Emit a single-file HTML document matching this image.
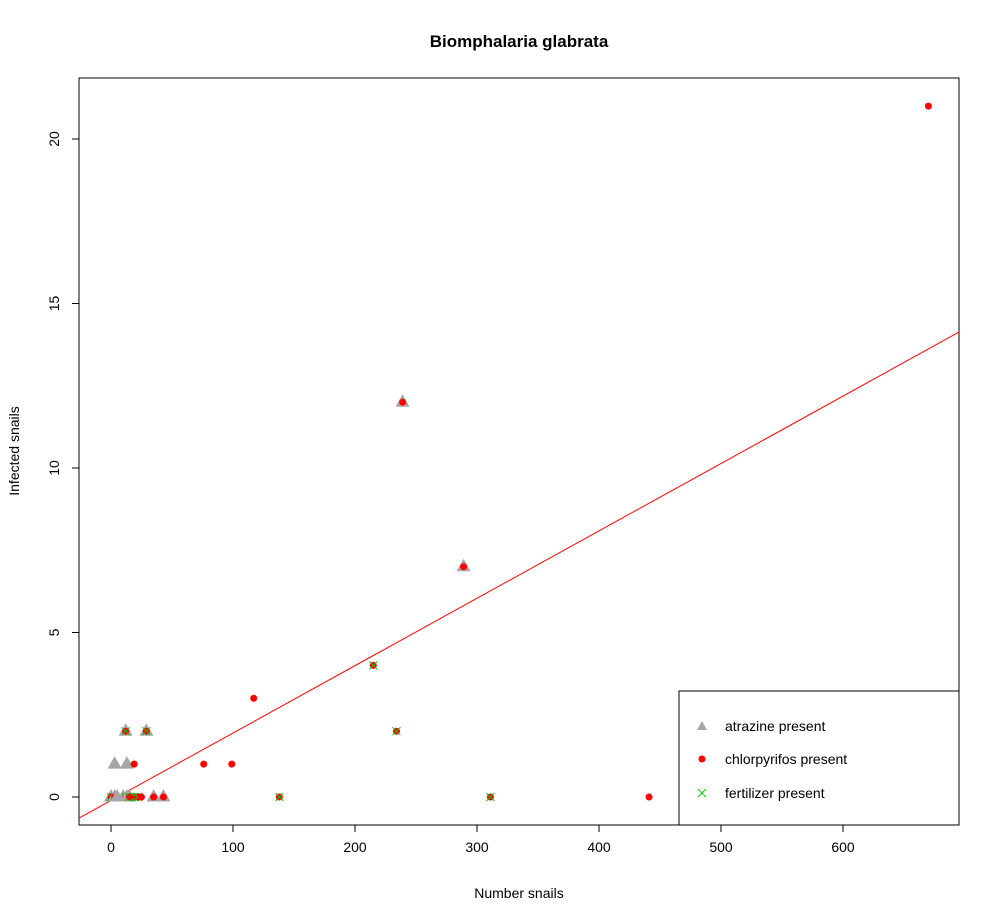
<!DOCTYPE html>
<html><head><meta charset="utf-8"><style>
body{margin:0;background:#fff}
svg{display:block;font-family:"Liberation Sans",Arial,sans-serif}
</style></head><body>
<svg id="chart" width="1000" height="923">
<text x="519" y="47" text-anchor="middle" font-size="17" font-weight="bold">Biomphalaria glabrata</text>
<text x="519" y="898" text-anchor="middle" font-size="14">Number snails</text>
<text transform="translate(19,451) rotate(-90)" text-anchor="middle" font-size="14">Infected snails</text>
<rect x="79" y="78" width="880" height="747" fill="none" stroke="#000"/>
<g id="axes"></g>
<g id="line"></g>
<g id="points"></g>
<g>
<rect x="679" y="691" width="280" height="134" fill="#fff" stroke="#000"/>
<polygon points="702,721 697,730 707,730" fill="#a6a6a6"/>
<text x="725" y="731" font-size="14">atrazine present</text>
<circle cx="702" cy="759" r="3.5" fill="#f00"/>
<text x="725" y="764" font-size="14">chlorpyrifos present</text>
<path d="M698,789L706,797M706,789L698,797" stroke="#0c0"/>
<text x="725" y="798" font-size="14">fertilizer present</text>
</g>
</svg>
<script>
const xTicks=[0,100,200,300,400,500,600];
const yTicks=[0,5,10,15,20];
const xs=[0,3,5,10,12,13,15,17,19,20,22,25,29,35,43,1,3,13,19,76,99,12,29,117,215,234,239,289,138,311,441,670];
const ys=[0,0,0,0,0,0,0,0,0,0,0,0,0,0,0,1,1,1,1,1,1,2,2,3,4,2,12,7,0,0,0,21];
const atr=[1,1,1,1,0,1,1,0,0,0,0,0,0,1,1,0,1,1,0,0,0,1,1,0,0,0,1,1,0,0,0,0];
const chl=[1,1,0,0,1,0,1,1,1,1,1,1,0,1,1,0,0,0,1,1,1,1,1,1,1,1,1,1,1,1,1,1];
const fer=[1,0,0,0,1,0,1,0,1,1,1,0,0,0,0,0,0,0,0,0,0,1,1,0,1,1,0,0,1,1,0,0];
const lineCoef=[-0.104,0.02048];
const X=v=>111+v*1.22, Y=v=>797-v*32.9;
const NS="http://www.w3.org/2000/svg";
function mk(t,a,p){const e=document.createElementNS(NS,t);for(const k in a)e.setAttribute(k,a[k]);p.appendChild(e);return e;}
const ax=document.getElementById('axes');
xTicks.forEach(t=>{const x=X(t);
const l=mk('line',{x1:x,x2:x,y1:825,y2:832,stroke:'#000'},ax);


const tx=mk('text',{x:x,y:852,'text-anchor':'middle','font-size':14},ax);tx.textContent=t;

});
yTicks.forEach(t=>{const y=Y(t);
const l=mk('line',{x1:72,x2:79,y1:y,y2:y,stroke:'#000'},ax);


const tx=mk('text',{x:0,y:0,'text-anchor':'middle','font-size':14,transform:`translate(59,${y}) rotate(-90)`},ax);tx.textContent=t;

});
const x0=(79-111)/1.22,x1=(959-111)/1.22;
const rl=mk('line',{x1:X(x0),y1:Y(lineCoef[0]+lineCoef[1]*x0),x2:X(x1),y2:Y(lineCoef[0]+lineCoef[1]*x1),stroke:'#f00'},document.getElementById('line'));


const pg=document.getElementById('points');
xs.forEach((v,i)=>{const cx=X(v),cy=Y(ys[i]);
if(atr[i]){const p=mk('polygon',{points:`${cx},${cy-8} ${cx-7},${cy+4.5} ${cx+7},${cy+4.5}`,fill:'#a6a6a6'},pg);

}
if(chl[i]){const c=mk('circle',{cx:cx,cy:cy,r:3.5,fill:'#f00'},pg);

}
if(fer[i]){const f=mk('path',{d:`M${cx-4},${cy-4}L${cx+4},${cy+4}M${cx+4},${cy-4}L${cx-4},${cy+4}`,stroke:'#0c0'},pg);

}
});
</script>
</body></html>
